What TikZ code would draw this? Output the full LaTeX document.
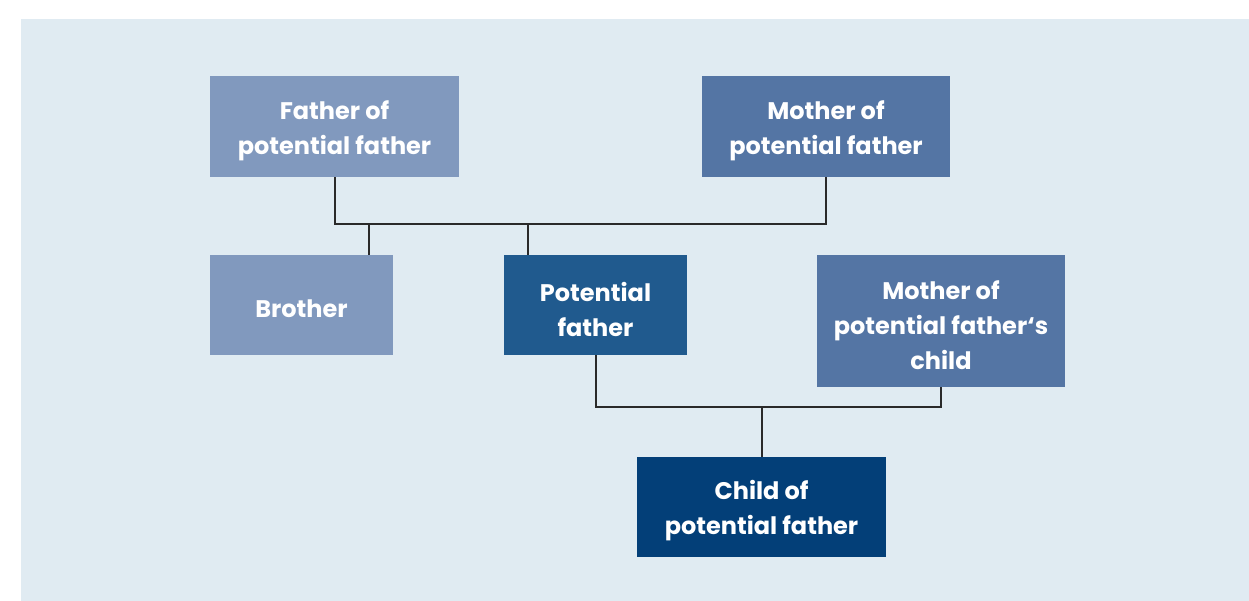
\documentclass[tikz,border=0pt]{standalone}
\usepackage{fontspec}
\setmainfont{Poppins}
\definecolor{panel}{HTML}{E0EBF2}
\definecolor{lightbox}{HTML}{8199BE}
\definecolor{midbox}{HTML}{5475A4}
\definecolor{darkbox}{HTML}{205A8E}
\definecolor{deepbox}{HTML}{033F78}
\definecolor{linecol}{HTML}{2A2A2A}
\tikzset{
  fambox/.style={inner sep=0pt},
  famtext/.style={inner sep=0pt, text=white, align=center, yshift=-4pt,
    font=\fontsize{24}{35}\selectfont\bfseries},
  link/.style={draw=linecol, line width=2pt}
}
\begin{document}
\begin{tikzpicture}[x=1pt,y=-1pt]
\useasboundingbox (0,0) rectangle (1249,601);
\fill[panel] (21,19) rectangle (1249,601);
\node[fambox, fill=lightbox, minimum width=249pt, minimum height=101pt,
  label={[famtext]center:Father of\\potential father}] (ff) at (334.5,126.5) {};
\node[fambox, fill=midbox, minimum width=248pt, minimum height=101pt,
  label={[famtext]center:Mother of\\potential father}] (mf) at (826,126.5) {};
\node[fambox, fill=lightbox, minimum width=183pt, minimum height=100pt,
  label={[famtext]center:Brother}] (br) at (301.5,305) {};
\node[fambox, fill=darkbox, minimum width=183pt, minimum height=100pt,
  label={[famtext]center:Potential\\father}] (pf) at (595.5,305) {};
\node[fambox, fill=midbox, minimum width=248pt, minimum height=132pt,
  label={[famtext]center:Mother of\\potential father‘s\\child}] (mc) at (941,321) {};
\node[fambox, fill=deepbox, minimum width=249pt, minimum height=100pt,
  label={[famtext]center:Child of\\potential father}] (ch) at (761.5,507) {};
\coordinate (top) at (0,224);
\coordinate (brtop) at (369,224);
\coordinate (pftop) at (528,224);
\coordinate (low) at (0,407);
\draw[link] (ff.south) -- (ff.south |- top) -- (mf.south |- top) -- (mf.south);
\draw[link] (brtop) -- (brtop |- br.north);
\draw[link] (pftop) -- (pftop |- pf.north);
\draw[link] (pf.south) -- (pf.south |- low) -- (mc.south |- low) -- (mc.south);
\draw[link] (ch.north |- low) -- (ch.north);
\end{tikzpicture}
\end{document}
